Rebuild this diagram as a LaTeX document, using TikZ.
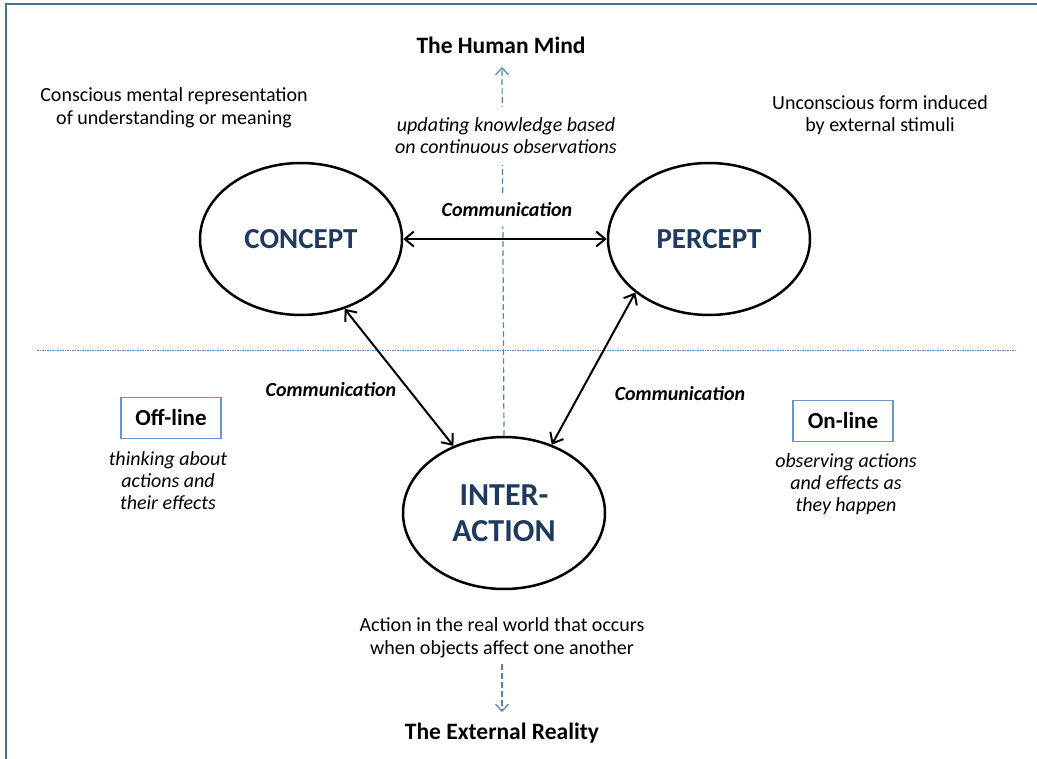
\documentclass[tikz,border=0pt]{standalone}
\usepackage{fontspec}
\setmainfont{Carlito}
\usetikzlibrary{arrows.meta,shapes.geometric,backgrounds}
\definecolor{framecol}{HTML}{4A6E9E}
\definecolor{dashcol}{HTML}{4F81BD}
\definecolor{boxcol}{HTML}{6A93CF}
\definecolor{titlecol}{HTML}{1F3A60}
\tikzset{
  ell/.style={ellipse, draw=black, line width=2.5pt, minimum width=202pt, minimum height=152pt,
    inner sep=0pt, font=\fontsize{29}{36}\selectfont\bfseries, text=titlecol, align=center},
  txt/.style={font=\fontsize{20}{22.5}\selectfont, align=center, inner sep=0pt},
  itxt/.style={font=\fontsize{20}{22}\selectfont\itshape, align=center, inner sep=0pt},
  comm/.style={font=\fontsize{20}{22}\selectfont\bfseries\itshape, inner sep=0pt},
  ttl/.style={font=\fontsize{23.5}{26}\selectfont\bfseries, inner sep=0pt},
  lbox/.style={draw=boxcol, line width=1.2pt, minimum width=100pt, minimum height=41pt,
    inner sep=0pt, font=\fontsize{23}{26}\selectfont\bfseries},
  vdash/.style={draw=dashcol, line width=1.2pt, dash pattern=on 5.5pt off 3.5pt},
  vtip/.style={-{Straight Barb[length=7pt,width=13pt,line width=1.2pt]}},
  carrow/.style={line width=2pt, {Straight Barb[length=9pt,width=15pt,line width=2pt]}-{Straight Barb[length=9pt,width=15pt,line width=2pt]}},
}
\begin{document}
\begin{tikzpicture}[x=1pt,y=-1pt]
\useasboundingbox (0,0) rectangle (1037,759);
\draw[framecol, line width=2pt] (6,759) -- (6,4) -- (1037,4);

% titles
\node[ttl] (mind) at (501,45) {The Human Mind};
\node[ttl] (ext) at (502,733) {The External Reality};
\coordinate (mindtip) at (502,67);
\coordinate (exttip) at (502,712);

% side texts
\node[txt] (conscious) at (174,108) {Conscious mental representation\\of understanding or meaning};
\node[txt] (uncons) at (880,115) {Unconscious form induced\\by external stimuli};
\node[itxt, fill=white, inner ysep=11pt] (upd) at (506,136) {updating knowledge based\\on continuous observations};

% ellipses
\node[ell] (concept) at (301,239) {CONCEPT};
\node[ell] (percept) at (709,239) {PERCEPT};
\node[ell, font=\fontsize{32}{36}\selectfont\bfseries] (inter) at (504,513) {INTER-\\ACTION};

% communication labels
\node[comm, fill=white, inner ysep=9pt] (comm1) at (507,210) {Communication};
\node[comm] (comm2) at (331,390) {Communication};
\node[comm] (comm3) at (680,394) {Communication};

% boxes
\node[lbox] (off) at (171,418) {Off-line};
\node[lbox] (on) at (843,421) {On-line};
\node[itxt] (offtxt) at (168,481) {thinking about\\actions and\\their effects};
\node[itxt] (ontxt) at (846,484) {observing actions\\and effects as\\they happen};

\node[txt] (action) at (502,638) {Action in the real world that occurs\\when objects affect one another};

% dashed / dotted lines
\begin{pgfonlayer}{background}
\draw[vdash, vtip] (inter.north) -- (mindtip);
\end{pgfonlayer}
\coordinate (dl) at (37,351);
\coordinate (dr) at (1017,351);
\begin{pgfonlayer}{background}
\draw[dashcol, line width=1pt, dash pattern=on 1.5pt off 1pt] (dl) -- (dr);
\end{pgfonlayer}
\draw[vdash, vtip] ([yshift=-6pt]action.south) -- (exttip);

% communication arrows
\draw[carrow] (concept.east) -- (percept.west);
\draw[carrow] (concept.-58) -- (inter.127);
\draw[carrow] (percept.216) -- (inter.55);
\end{tikzpicture}
\end{document}
